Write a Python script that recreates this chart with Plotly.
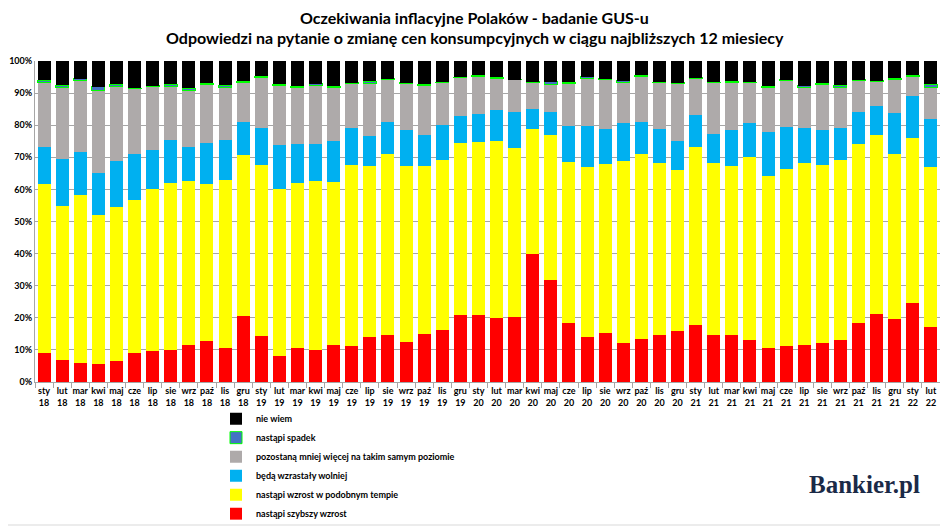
import plotly.graph_objects as go

# Month labels (sty 2018 - lut 2022)
months = ['sty', 'lut', 'mar', 'kwi', 'maj', 'cze', 'lip', 'sie', 'wrz', 'paź', 'lis', 'gru']
years = ['18', '19', '20', '21', '22']
categories = [f'{m}<br>{y}' for y in years[:4] for m in months] + ['sty<br>22', 'lut<br>22']

# Shares of answers, %
szybszy = [9.0, 6.9, 6.0, 5.6, 6.4, 8.9, 9.8, 10.1, 11.6, 12.8, 10.6, 20.7,
           14.3, 8.1, 10.5, 10.1, 11.6, 11.3, 14.1, 14.5, 12.4, 14.9, 16.3, 20.9,
           20.9, 19.8, 20.4, 39.9, 31.8, 18.4, 13.9, 15.4, 12.0, 13.5, 14.5, 15.8,
           17.7, 14.5, 14.7, 13.2, 10.5, 11.3, 11.5, 12.1, 13.2, 18.5, 21.1, 19.6,
           24.7, 17.0]
podobny = [52.6, 48.0, 52.4, 46.3, 48.2, 47.7, 50.2, 51.8, 51.0, 48.9, 52.3, 49.9,
           53.4, 51.9, 51.6, 52.5, 50.8, 56.2, 53.2, 56.4, 54.9, 52.4, 52.8, 53.6,
           53.9, 55.4, 52.6, 38.9, 45.0, 50.1, 53.0, 52.5, 56.7, 57.6, 53.7, 50.3,
           55.5, 53.6, 52.7, 56.9, 53.7, 55.0, 56.6, 55.6, 56.1, 55.6, 55.9, 51.4,
           51.4, 50.0]
wolniej = [11.7, 14.7, 13.3, 13.1, 14.1, 14.3, 12.3, 13.4, 10.7, 12.8, 12.4, 10.4,
           11.4, 13.8, 11.9, 11.4, 12.6, 11.5, 9.3, 10.1, 11.1, 9.6, 10.9, 8.5,
           8.6, 9.5, 11.2, 6.1, 7.4, 11.2, 12.7, 10.8, 11.9, 9.9, 10.5, 8.9,
           10.0, 9.3, 11.0, 10.5, 13.6, 13.1, 11.1, 10.7, 9.7, 10.1, 9.1, 12.7,
           13.0, 14.9]
bez_zmian = [20.0, 22.1, 22.3, 25.8, 23.4, 20.4, 19.8, 16.8, 17.4, 18.1, 16.6, 12.2,
             15.9, 18.7, 17.9, 18.5, 16.9, 13.9, 16.4, 13.2, 14.7, 15.5, 13.2, 11.9,
             11.9, 9.9, 9.9, 8.3, 8.6, 13.4, 14.8, 15.5, 12.8, 14.2, 14.6, 17.9,
             11.2, 15.8, 15.0, 12.6, 14.1, 14.5, 12.7, 14.3, 12.9, 9.7, 7.6, 10.5,
             6.1, 9.7]
spadek = [0.7, 0.8, 0.4, 1.2, 0.6, 0.2, 0.2, 0.6, 0.8, 0.4, 0.6, 0.5,
          0.2, 0.2, 0.2, 0.4, 0.2, 0.3, 0.7, 0.3, 0.2, 0.3, 0.2, 0.1,
          0.2, 0.3, 0.1, 0.3, 0.7, 0.3, 0.7, 0.2, 0.4, 0.3, 0.1, 0.4,
          0.4, 0.2, 0.3, 0.2, 0.2, 0.3, 0.4, 0.3, 0.5, 0.3, 0.1, 0.5,
          0.3, 1.1]
nie_wiem = [6.0, 7.5, 5.6, 8.0, 7.3, 8.5, 7.7, 7.3, 8.5, 7.0, 7.5, 6.3,
            4.8, 7.3, 7.9, 7.3, 7.9, 6.8, 6.3, 5.5, 6.7, 7.3, 6.6, 5.0,
            4.5, 5.1, 5.8, 6.5, 6.5, 6.6, 4.9, 5.6, 6.2, 4.5, 6.6, 6.7,
            5.2, 6.6, 6.3, 6.6, 7.9, 5.8, 7.7, 7.0, 7.6, 5.8, 6.2, 5.3,
            4.5, 7.3]

series = [
    ('nastąpi szybszy wzrost', szybszy, '#FF0000', None),
    ('nastąpi wzrost w podobnym tempie', podobny, '#FFFF00', None),
    ('będą wzrastały wolniej', wolniej, '#00B0F0', None),
    ('pozostaną mniej więcej na takim samym poziomie', bez_zmian, '#AEAAAA', None),
    ('nastąpi spadek', spadek, '#4472C4', '#00FF00'),
    ('nie wiem', nie_wiem, '#000000', None),
]

font = 'Lato, "Open Sans", sans-serif'

fig = go.Figure()
for name, vals, color, edge in series:
    fig.add_trace(go.Bar(
        x=categories, y=vals, name=name,
        marker=dict(color=color, line=dict(color=edge or color, width=1 if edge else 0)),
    ))

# page body adds 8px around the figure, so the canvas is 8px smaller
fig.update_layout(
    barmode='stack',
    bargap=0.28,
    width=940, height=518,
    paper_bgcolor='white', plot_bgcolor='white',
    margin=dict(l=27, r=8, t=53, b=144, autoexpand=False),
    xaxis=dict(
        automargin=False,
        tickfont=dict(family=font, size=9, color='black', weight='bold'),
        tickangle=0, showline=True, linecolor='#A6A6A6',
        ticks='outside', tickson='boundaries', ticklen=5, tickcolor='#A6A6A6',
    ),
    yaxis=dict(
        automargin=False,
        range=[0, 100], dtick=10, ticksuffix='%',
        tickfont=dict(family=font, size=9, color='black', weight='bold'),
        showgrid=True, gridcolor='#A6A6A6', gridwidth=1,
        showline=True, linecolor='#A6A6A6',
        ticks='', zeroline=False,
    ),
    legend=dict(
        x=0.2, xanchor='left', y=-0.069, yanchor='top',
        traceorder='reversed', bgcolor='rgba(0,0,0,0)',
        font=dict(family=font, size=9, color='black', weight='bold'),
        itemwidth=30, tracegroupgap=0,
    ),
    showlegend=True,
)

# Two-line title
title_lines = ['Oczekiwania inflacyjne Polaków - badanie GUS-u',
               'Odpowiedzi na pytanie o zmianę cen konsumpcyjnych w ciągu najbliższych 12 miesiecy']
for text, ypos in zip(title_lines, [1.137, 1.072]):
    fig.add_annotation(
        text=f'<b>{text}</b>', xref='paper', yref='paper',
        x=0.486, y=ypos, xanchor='center', yanchor='middle', showarrow=False,
        font=dict(family=font, size=16, color='black'),
    )

# Logo text
fig.add_annotation(
    text='<b>Bankier.pl</b>', xref='paper', yref='paper',
    x=0.917, y=-0.318, xanchor='center', yanchor='middle', showarrow=False,
    font=dict(family='"Liberation Serif", "DejaVu Serif", serif', size=25, color='#1B2A47'),
)

# Outer frame of the chart
fig.add_shape(
    type='rect', xref='paper', yref='paper',
    x0=-34 / 905, x1=912 / 905, y0=-143 / 321, y1=381 / 321,
    line=dict(color='#D9D9D9', width=1),
)

fig.write_html('out.html')
